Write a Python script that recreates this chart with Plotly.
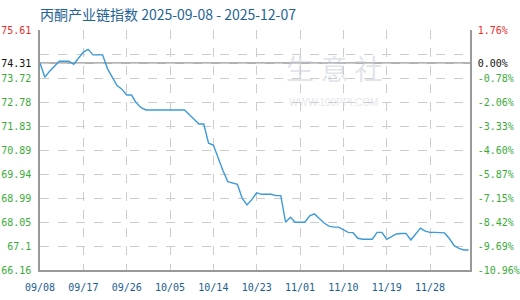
import plotly.graph_objects as go
import pandas as pd

start_date = "2025-09-08"
values = [
    74.31, 73.75, 73.99, 74.19, 74.38, 74.38, 74.38, 74.26, 74.51, 74.74,
    74.85, 74.63, 74.63, 74.63, 74.09, 73.75, 73.42, 73.28, 73.05, 73.05,
    72.74, 72.55, 72.46, 72.46, 72.46, 72.46, 72.46, 72.46, 72.46, 72.46,
    72.46, 72.28, 72.09, 71.91, 71.91, 71.15, 71.08, 70.54, 70.07, 69.64,
    69.58, 69.53, 68.98, 68.72, 68.94, 69.20, 69.14, 69.14, 69.14, 69.09,
    69.09, 68.04, 68.24, 68.04, 68.04, 68.04, 68.29, 68.37, 68.19, 68.01,
    67.89, 67.85, 67.85, 67.75, 67.64, 67.63, 67.41, 67.37, 67.37, 67.37,
    67.64, 67.64, 67.37, 67.48, 67.58, 67.60, 67.60, 67.34, 67.59, 67.81,
    67.69, 67.64, 67.64, 67.64, 67.62, 67.40, 67.12, 67.01, 66.95, 66.95,
]
dates = pd.date_range(start_date, periods=len(values), freq="D")

base_value = 74.31
left_ticks = [66.16, 67.105, 68.05, 68.995, 69.94, 70.885, 71.83, 72.775, 73.72, 74.665, 75.61]
left_labels = ["66.16", "67.1", "68.05", "68.99", "69.94", "70.89", "71.83", "72.78", "73.72", "", "75.61"]
right_labels = ["-10.96%", "-9.69%", "-8.42%", "-7.15%", "-5.87%", "-4.60%", "-3.33%", "-2.06%", "-0.78%", "", "1.76%"]
base_pct_label = "0.00%"

x_tick_dates = ["2025-09-08", "2025-09-17", "2025-09-26", "2025-10-05", "2025-10-14",
                "2025-10-23", "2025-11-01", "2025-11-10", "2025-11-19", "2025-11-28"]
x_tick_labels = ["09/08", "09/17", "09/26", "10/05", "10/14", "10/23", "11/01", "11/10", "11/19", "11/28"]

title_text = "丙酮产业链指数 2025-09-08 - 2025-12-07"

RED = "#ee2b2b"
GREEN = "#3aab3a"
BLACK = "#111111"

def colored(lbl, col):
    return f"<span style='color:{col}'>{lbl}</span>" if lbl else ""

lt_vals = left_ticks + [base_value]
lt_text = [colored(l, RED if i == len(left_labels) - 1 else GREEN) for i, l in enumerate(left_labels)] + [colored(f"{base_value:.2f}", BLACK)]
rt_text = [colored(l, RED if i == len(right_labels) - 1 else GREEN) for i, l in enumerate(right_labels)] + [colored(base_pct_label, BLACK)]

fig = go.Figure()
fig.add_trace(go.Scatter(x=dates, y=values, mode="lines",
                         line=dict(color="#3d9ad8", width=1.4), showlegend=False))
fig.add_trace(go.Scatter(x=[dates[0]], y=[base_value], mode="markers", opacity=0,
                         yaxis="y2", showlegend=False, hoverinfo="skip"))

yr = [left_ticks[0], left_ticks[-1]]
x_end = pd.Timestamp("2025-12-06 07:00")

fig.update_layout(
    width=520, height=300,
    margin=dict(l=40, r=50, t=30, b=30),
    paper_bgcolor="white", plot_bgcolor="white",
    title=dict(text=title_text, x=40/520, xanchor="left", y=1 - 15/300, yanchor="middle",
               font=dict(family="Noto Sans CJK SC", size=14, color="#1f6395")),
    xaxis=dict(type="date", range=[pd.Timestamp(start_date), x_end], automargin=False,
               tickvals=x_tick_dates, ticktext=x_tick_labels,
               showgrid=True, gridcolor="#cccccc", griddash="dash", gridwidth=1,
               showline=True, linecolor="#999999", linewidth=1.5,
               ticks="", ticklabelstandoff=7,
               tickfont=dict(family="DejaVu Sans Mono", size=10, color="#1a5e92"),
               zeroline=False),
    yaxis=dict(range=yr, tickvals=lt_vals, ticktext=lt_text, automargin=False,
               showgrid=True, gridcolor="#cccccc", griddash="dash", gridwidth=1,
               showline=True, linecolor="#999999", linewidth=1.5,
               ticks="", ticklabelstandoff=5,
               tickfont=dict(family="DejaVu Sans Mono", size=10, color=GREEN),
               zeroline=False),
    yaxis2=dict(range=yr, tickvals=lt_vals, ticktext=rt_text, overlaying="y", side="right",
                automargin=False,
                showgrid=False, showline=True, linecolor="#999999", linewidth=1.5,
                ticks="", ticklabelstandoff=4,
                tickfont=dict(family="DejaVu Sans Mono", size=10, color=GREEN),
                zeroline=False),
)

fig.add_shape(type="line", xref="paper", x0=0, x1=1, yref="y", y0=base_value, y1=base_value,
              line=dict(color="#999999", width=1.5), layer="below")

# faint watermark
fig.add_annotation(text="生 意 社", xref="paper", yref="paper", x=(385 - 40) / 430, y=0.935, showarrow=False,
                   font=dict(family="Noto Sans CJK SC", size=28, color="rgba(195,202,215,0.5)"))
fig.add_annotation(text="WWW.100PPI.COM", xref="paper", yref="paper", x=(380 - 40) / 430, y=0.73, showarrow=False,
                   font=dict(family="Liberation Sans", size=10, color="rgba(200,205,215,0.5)"))

fig.write_html("out.html")
